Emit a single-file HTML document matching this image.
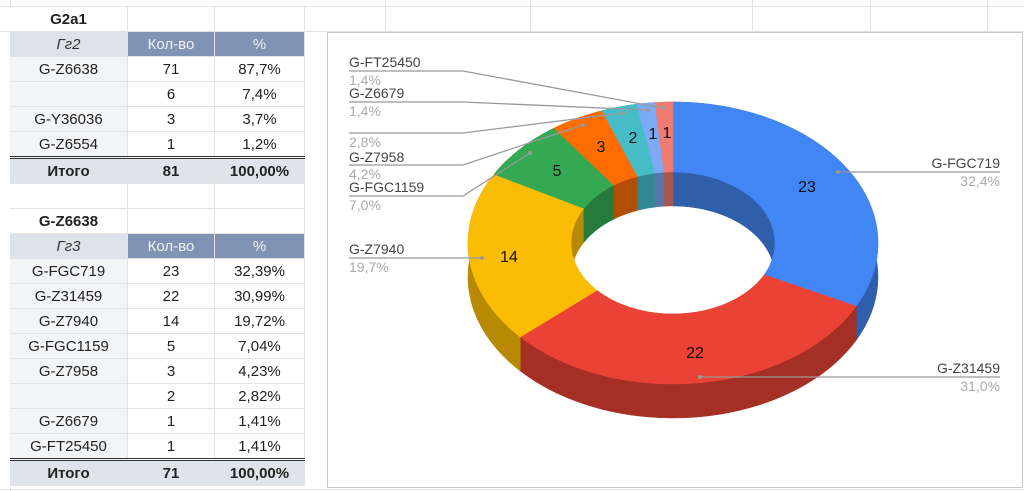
<!DOCTYPE html>
<html><head><meta charset="utf-8"><style>
body{margin:0;width:1024px;height:491px;overflow:hidden;background:#fff;font-family:"Liberation Sans",Arial,sans-serif;position:relative}
.grid{position:absolute;left:0;top:0}
table{position:absolute;left:10px;top:7px;border-collapse:collapse;font-size:15px;color:#222}
td{height:24px;padding:0;text-align:center;border-bottom:1px solid #e2e2e2;border-right:1px solid #e2e2e2}
.a{width:117px;background:#f3f4f6}.b{width:86px}.c{width:89px}
.h td{background:#8193b4;color:#f0f2f6}.h td.a{background:#dde2ea;color:#333;font-style:italic}
.t td{background:#dfe3eb;font-weight:bold;border-top:3px double #333}
.ti td{font-weight:bold;background:#fff}
.e td{background:#fff}
#chart{position:absolute;left:327px;top:32px;width:694px;height:454px;border:1px solid #c8c8c8;background:#fff}
</style></head><body>
<svg class="grid" width="1024" height="491">
<g stroke="#e2e2e2">
<line x1="0" y1="6.5" x2="1024" y2="6.5"/><line x1="0" y1="31.5" x2="1024" y2="31.5"/>
<line x1="10.5" y1="0" x2="10.5" y2="491"/>
<line x1="385.5" y1="0" x2="385.5" y2="32"/><line x1="530.5" y1="0" x2="530.5" y2="32"/><line x1="752.5" y1="0" x2="752.5" y2="32"/><line x1="870.5" y1="0" x2="870.5" y2="32"/><line x1="987.5" y1="0" x2="987.5" y2="32"/>
<line x1="0" y1="489.5" x2="1024" y2="489.5"/>
</g></svg>
<table>
<tr class="ti"><td class="a" style="background:#fff">G2a1</td><td class="b"></td><td class="c"></td></tr>
<tr class="h"><td class="a">Гг2</td><td class="b">Кол-во</td><td class="c">%</td></tr>
<tr><td class="a">G-Z6638</td><td class="b">71</td><td class="c">87,7%</td></tr>
<tr><td class="a"></td><td class="b">6</td><td class="c">7,4%</td></tr>
<tr><td class="a">G-Y36036</td><td class="b">3</td><td class="c">3,7%</td></tr>
<tr><td class="a">G-Z6554</td><td class="b">1</td><td class="c">1,2%</td></tr>
<tr class="t"><td class="a" style="background:#dfe3eb">Итого</td><td class="b">81</td><td class="c">100,00%</td></tr>
<tr class="e"><td class="a" style="background:#fff"></td><td class="b"></td><td class="c"></td></tr>
<tr class="ti"><td class="a" style="background:#fff">G-Z6638</td><td class="b"></td><td class="c"></td></tr>
<tr class="h"><td class="a">Гг3</td><td class="b">Кол-во</td><td class="c">%</td></tr>
<tr><td class="a">G-FGC719</td><td class="b">23</td><td class="c">32,39%</td></tr>
<tr><td class="a">G-Z31459</td><td class="b">22</td><td class="c">30,99%</td></tr>
<tr><td class="a">G-Z7940</td><td class="b">14</td><td class="c">19,72%</td></tr>
<tr><td class="a">G-FGC1159</td><td class="b">5</td><td class="c">7,04%</td></tr>
<tr><td class="a">G-Z7958</td><td class="b">3</td><td class="c">4,23%</td></tr>
<tr><td class="a"></td><td class="b">2</td><td class="c">2,82%</td></tr>
<tr><td class="a">G-Z6679</td><td class="b">1</td><td class="c">1,41%</td></tr>
<tr><td class="a">G-FT25450</td><td class="b">1</td><td class="c">1,41%</td></tr>
<tr class="t"><td class="a" style="background:#dfe3eb">Итого</td><td class="b">71</td><td class="c">100,00%</td></tr>
</table>
<div id="chart"></div>
<svg width="1024" height="491" style="position:absolute;left:0;top:0" font-family="Liberation Sans, Arial, sans-serif">
<g id="pie"></g>
<g fill="none" stroke="#999" stroke-width="1.3">
<polyline points="349,71 463,71 663,108"/>
<polyline points="349,102 463,102 648,110"/>
<polyline points="349,133 463,133 623,113"/>
<polyline points="349,165 463,165 583,125"/>
<polyline points="349,196 463,196 530,153"/>
<polyline points="349,258 482,258"/>
<polyline points="838,172 1000,172"/>
<polyline points="700,377 1000,377"/>
</g>
<g fill="#999"><circle cx="663" cy="108" r="2"/><circle cx="648" cy="110" r="2"/><circle cx="623" cy="113" r="2"/><circle cx="583" cy="125" r="2"/><circle cx="530" cy="153" r="2"/><circle cx="482" cy="258" r="2"/><circle cx="838" cy="172" r="2"/><circle cx="700" cy="377" r="2"/></g>
<g font-size="14" fill="#444">
<text x="349" y="67">G-FT25450</text>
<text x="349" y="98">G-Z6679</text>
<text x="349" y="162">G-Z7958</text>
<text x="349" y="192">G-FGC1159</text>
<text x="349" y="254">G-Z7940</text>
<text x="1000" y="168" text-anchor="end">G-FGC719</text>
<text x="1000" y="373" text-anchor="end">G-Z31459</text>
</g>
<g font-size="14" fill="#aaa">
<text x="349" y="85">1,4%</text>
<text x="349" y="116">1,4%</text>
<text x="349" y="147">2,8%</text>
<text x="349" y="179">4,2%</text>
<text x="349" y="210">7,0%</text>
<text x="349" y="272">19,7%</text>
<text x="1000" y="186" text-anchor="end">32,4%</text>
<text x="1000" y="391" text-anchor="end">31,0%</text>
</g>
<g font-size="16" fill="#111" text-anchor="middle">
<text x="807" y="192">23</text><text x="695" y="358">22</text><text x="509" y="262">14</text><text x="557" y="176">5</text><text x="601" y="152">3</text><text x="633" y="143">2</text><text x="653" y="139">1</text><text x="667" y="138">1</text>
</g>
</svg>
<script>
(function(){
var cx=673,cy=243,rx=205,ry=141,irx=102,iry=71,d=34;
var vals=[23,22,14,5,3,2,1,1];
var col=["#4285f4","#ea4335","#fbbc04","#34a853","#ff6d01","#46bdc6","#7baaf7","#f07b72"];
var dk=["#2f5eab","#a52f25","#b88a03","#257a3c","#b34d01","#318890","#5677ad","#a85650"];
var tot=71,g=document.getElementById('pie'),ns="http://www.w3.org/2000/svg";
function P(a,r1,r2,dy){return [cx+r1*Math.sin(a),cy+dy-r2*Math.cos(a)];}
function arc(a0,a1,r1,r2,dy){var pts=[],n=40;for(var i=0;i<=n;i++){var a=a0+(a1-a0)*i/n;pts.push(P(a,r1,r2,dy));}return pts;}
function add(pts,fill){var p=document.createElementNS(ns,'path');p.setAttribute('d','M'+pts.map(function(q){return q[0].toFixed(1)+','+q[1].toFixed(1)}).join('L')+'Z');p.setAttribute('fill',fill);p.setAttribute('stroke',fill);p.setAttribute('stroke-width','0.5');g.appendChild(p);}
var angs=[],a=0;vals.forEach(function(v){var b=a+v/tot*2*Math.PI;angs.push([a,b]);a=b;});
angs.forEach(function(s,i){var top=arc(s[0],s[1],rx,ry,0),bot=arc(s[0],s[1],rx,ry,d).reverse();add(top.concat(bot),dk[i]);});
var defs=document.createElementNS(ns,'defs');defs.innerHTML='<clipPath id="hc"><ellipse cx="'+cx+'" cy="'+cy+'" rx="'+irx+'" ry="'+iry+'"/></clipPath>';g.appendChild(defs);
var hg=document.createElementNS(ns,'g');hg.setAttribute('clip-path','url(#hc)');g.appendChild(hg);
var gg=g;g=hg;
add(arc(0,2*Math.PI,irx,iry,0),"#fff");
angs.forEach(function(s,i){var top=arc(s[0],s[1],irx,iry,0),bot=arc(s[0],s[1],irx,iry,d).reverse();add(top.concat(bot),dk[i]);});
g=gg;
angs.forEach(function(s,i){var o=arc(s[0],s[1],rx,ry,0),n=arc(s[0],s[1],irx,iry,0).reverse();add(o.concat(n),col[i]);});
})();
</script>
</body></html>
